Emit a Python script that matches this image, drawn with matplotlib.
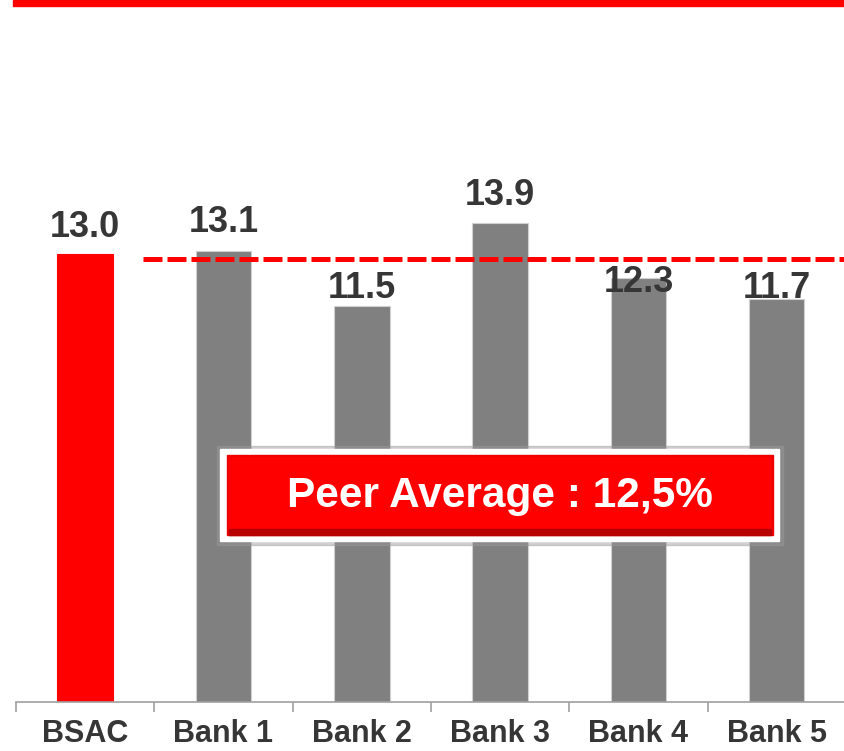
import matplotlib
matplotlib.use("Agg")
import matplotlib.pyplot as plt
from matplotlib.patches import Rectangle

# data
categories = ["BSAC", "Bank 1", "Bank 2", "Bank 3", "Bank 4", "Bank 5"]
values = [13.0, 13.1, 11.5, 13.9, 12.3, 11.7]
peer_line = 12.87
peer_text = "Peer Average : 12,5%"

# style
bar_colors = ["#ff0000", "#808080", "#808080", "#808080", "#808080", "#808080"]
label_shift = [0.49, 0.54, 0.22, 0.52, -0.41, 0.02]  # labels were placed by hand
text_color = "#363636"

plt.rcParams["font.family"] = ["Liberation Sans", "DejaVu Sans"]
plt.rcParams["font.weight"] = "bold"

fig = plt.figure(figsize=(8.45, 7.51), dpi=100)
W, H = 845.0, 751.0
ax = fig.add_axes([16 / W, 1 - 702 / H, 830 / W, 689 / H])

x = list(range(len(categories)))
bars = ax.bar(x, values, width=0.40, color=bar_colors, edgecolor="#d0d0d0",
              linewidth=0.8, zorder=2)
bars[0].set_edgecolor(bar_colors[0])

for i, v in enumerate(values):
    ax.text(i, v + label_shift[i], f"{v:.1f}", ha="center", va="baseline",
            fontsize=26, fontweight="bold", color=text_color, zorder=4)

ax.set_xlim(-0.5, len(categories) - 0.5)
ax.set_ylim(0, 20)

# peer average dashed line, starts right of the first bar
ax.plot([0.42, 5.5], [peer_line, peer_line], color="#ff0000", lw=3.6,
        linestyle=(0, (3.8, 1.0)), zorder=3, dash_capstyle="butt")

for s in ["top", "right", "left"]:
    ax.spines[s].set_visible(False)
ax.spines["bottom"].set_color("#a0a0a0")
ax.spines["bottom"].set_linewidth(1.2)
ax.set_yticks([])
ax.set_xticks([i - 0.5 for i in range(len(categories) + 1)])
ax.set_xticklabels([])
ax.tick_params(axis="x", length=7.2, width=1.2, color="#a0a0a0")
ax.set_xticks(x, minor=True)
ax.set_xticklabels(categories, minor=True, fontsize=22, fontweight="bold",
                   color=text_color)
ax.tick_params(axis="x", which="minor", length=0, pad=12.5)

# top red band
fig.patches.append(Rectangle((13 / W, 1 - 6 / H), 1, 6 / H, color="#ff0000",
                             transform=fig.transFigure, figure=fig))


def fbox(x0, y0, x1, y1, **kw):
    r = Rectangle((x0 / W, 1 - y1 / H), (x1 - x0) / W, (y1 - y0) / H,
                  transform=fig.transFigure, figure=fig, **kw)
    fig.patches.append(r)


# peer average box: shadow, white frame, red body
fbox(217, 446, 783, 545, color="#9a9a9a", alpha=0.45, zorder=5)
fbox(220, 449, 779, 541, color="white", zorder=6)
fbox(227, 455, 773, 535, color="#ee0000", zorder=7)
fbox(229, 457, 771, 531, color="#ff0000", zorder=8)
fbox(229, 529, 771, 535, color="#b80000", zorder=8)

fig.text(500 / W, 1 - 496 / H, peer_text, ha="center", va="center",
         fontsize=30.5, fontweight="bold", color="white", zorder=10)

fig.savefig("out.png", dpi=100)
